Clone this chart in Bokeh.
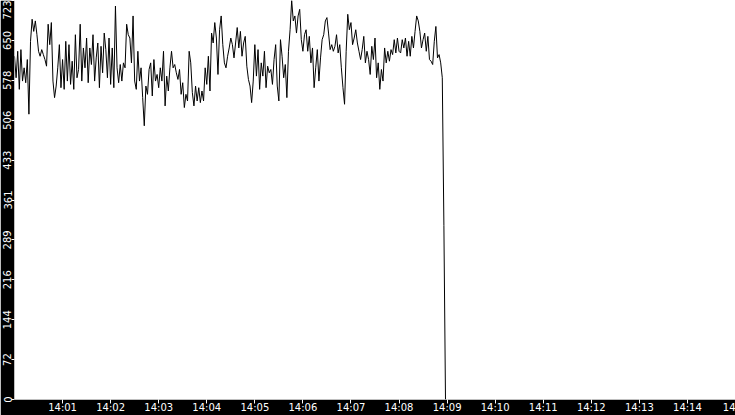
import pandas as pd
from bokeh.plotting import figure
from bokeh.models import Range1d, FixedTicker, CustomJSTickFormatter, ColumnDataSource
from bokeh.embed import file_html
from bokeh.resources import INLINE

# ---- data ----
start_time = "2024-01-01 14:00:00"
sample_seconds = 2

seg_a = [622, 583, 631, 562, 634, 577, 601, 574, 616, 517, 649, 689, 667, 686, 661, 631, 622, 634, 625, 616,
         604, 680, 643, 683, 577, 547, 568, 601, 643, 565, 616, 562, 649, 577, 643, 571, 613, 562, 661, 583,
         598, 680, 577, 637, 601, 655, 574, 637, 607, 661, 577, 619, 646, 565, 640, 592, 664, 634, 583, 655,
         571, 637, 565, 713, 601, 574, 607, 577, 610]
seg_b = [601, 680, 661, 655, 610, 695, 577, 562, 631, 577, 601, 547, 496, 568, 553, 598, 610, 550, 616, 577,
         589, 565, 601, 577, 631, 532, 586, 559, 601, 631, 601, 607, 592, 580, 598, 553, 574, 529, 553, 541,
         631, 610, 556, 532, 568, 541, 565, 538, 559, 541, 601, 571, 622, 559, 664, 646, 683, 655, 589, 670,
         695, 643, 610, 601, 622, 637]
seg_c = [655, 643, 619, 646, 674, 637, 667, 622, 646, 658, 604, 580, 568, 538, 577, 643, 586, 634, 562, 610,
         586, 631, 565, 604, 592, 598, 571, 616, 643, 568, 541, 652, 622, 583, 607, 547, 631, 670, 723, 686,
         695, 664, 695, 707, 652, 631, 661, 670, 631, 658, 610, 637, 565, 601, 634, 577, 619, 652, 661, 686,
         692, 664, 634, 643, 631, 640]
seg_d = [661, 628, 643, 601, 565, 535, 631, 698, 670, 683, 643, 655, 670, 646, 631, 616, 634, 658, 610, 631,
         616, 589, 640, 616, 655, 583, 610, 562, 598, 577, 637, 610, 631, 613, 634, 625, 652, 628, 655, 631,
         628, 652, 637, 655, 622, 649, 622, 658, 637, 667, 695, 686, 667, 637, 652, 664, 631, 658, 616, 613,
         607, 649, 676, 619, 625, 610, 583, 315, 0]

values = seg_a + seg_b + seg_c + seg_d
times = pd.date_range(start=start_time, periods=len(values), freq=f"{sample_seconds}s")

x_start = "2024-01-01 14:00:00"
x_end = "2024-01-01 14:15:00"
x_tick_times = ["14:01", "14:02", "14:03", "14:04", "14:05", "14:06", "14:07", "14:08",
                "14:09", "14:10", "14:11", "14:12", "14:13", "14:14", "14:15"]
x_tick_labels = ["14:01", "14:02", "14:03", "14:04", "14:05", "14:06", "14:07", "14:08",
                 "14:09", "14:10", "14:11", "14:12", "14:13", "14:14", "14"]
y_max = 723
y_ticks = [0, 72.3, 144.6, 216.9, 289.2, 361.5, 433.8, 506.1, 578.4, 650.7, 723]
y_labels = ["0", "72", "144", "216", "289", "361", "433", "506", "578", "650", "723"]

# ---- figure ----
source = ColumnDataSource(dict(t=times, v=values))

p = figure(width=735, height=415, output_backend="svg", toolbar_location=None,
           x_axis_type="datetime",
           x_range=Range1d(pd.Timestamp(x_start), pd.Timestamp(x_end)),
           y_range=Range1d(0, y_max))
p.line("t", "v", source=source, line_color="black", line_width=1)

p.background_fill_color = "white"
p.border_fill_color = "black"
p.outline_line_color = None
p.grid.visible = False
p.min_border_left = 0
p.min_border_right = 0
p.min_border_top = 0
p.min_border_bottom = 0

day = pd.Timestamp(x_start).strftime("%Y-%m-%d")
tick_ms = [pd.Timestamp(f"{day} {t}:00").value / 1e6 for t in x_tick_times]
p.xaxis.ticker = FixedTicker(ticks=tick_ms)
p.xaxis.formatter = CustomJSTickFormatter(
    args=dict(xt=tick_ms, xl=x_tick_labels),
    code="for (let i = 0; i < xt.length; i++) { if (Math.abs(xt[i] - tick) < 1) return xl[i]; } return '';")
p.yaxis.ticker = FixedTicker(ticks=y_ticks)
p.yaxis.formatter = CustomJSTickFormatter(
    args=dict(yt=y_ticks, yl=y_labels),
    code="for (let i = 0; i < yt.length; i++) { if (Math.abs(yt[i] - tick) < 1e-6) return yl[i]; } return '';")
p.yaxis.major_label_orientation = "vertical"

for ax in (p.xaxis, p.yaxis):
    ax.axis_line_color = None
    ax.major_tick_line_color = "white"
    ax.minor_tick_line_color = None
    ax.major_tick_in = 0
    ax.major_label_text_color = "white"
    ax.major_label_text_font = "DejaVu Sans"
    ax.major_label_text_font_size = "10px"
    ax.major_label_standoff = 0
p.xaxis.major_tick_out = 4
p.xaxis.major_label_standoff = -2
p.yaxis.major_tick_out = 3

open("out.html", "w").write(file_html(p, INLINE))
